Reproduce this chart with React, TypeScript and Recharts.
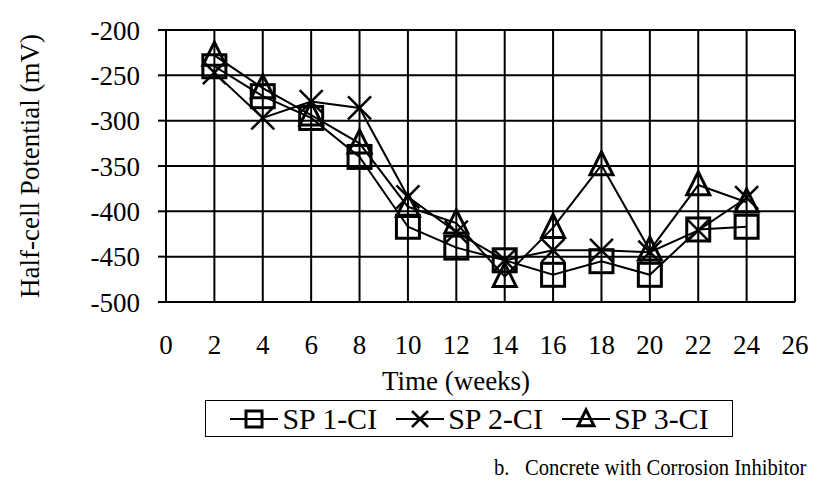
import React from 'react';
import { LineChart, Line, XAxis, YAxis, CartesianGrid, Legend } from 'recharts';

const weeks = [2, 4, 6, 8, 10, 12, 14, 16, 18, 20, 22, 24];
const sp1 = [-240, -273, -297, -340, -417, -440, -454, -470, -455, -470, -420, -417];
const sp2 = [-247, -297, -279, -286, -384, -423, -454, -443, -443, -445, -421, -385];
const sp3 = [-228, -264, -294, -325, -395, -413, -472, -418, -349, -443, -371, -390];
const xTicks = [0, 2, 4, 6, 8, 10, 12, 14, 16, 18, 20, 22, 24, 26];
const yTicks = [-500, -450, -400, -350, -300, -250, -200];
const seriesNames = ['SP 1-CI', 'SP 2-CI', 'SP 3-CI'];

const data = weeks.map((w, i) => ({ week: w, sp1: sp1[i], sp2: sp2[i], sp3: sp3[i] }));

const FONT = 'Liberation Serif, Times New Roman, serif';
const FS = 27;

type Kind = 'square' | 'x' | 'triangle';

function Marker({ cx, cy, kind, s }: { cx: number; cy: number; kind: Kind; s: number }) {
  if (cx == null || cy == null) return null;
  const h = s / 2;
  if (kind === 'square') {
    return <rect x={cx - h} y={cy - h} width={s} height={s} fill="none" stroke="#000" strokeWidth={3} />;
  }
  if (kind === 'x') {
    return (
      <g stroke="#000" strokeWidth={2.5}>
        <line x1={cx - h} y1={cy - h} x2={cx + h} y2={cy + h} />
        <line x1={cx - h} y1={cy + h} x2={cx + h} y2={cy - h} />
      </g>
    );
  }
  return (
    <polygon
      points={`${cx},${cy - h * 1.15} ${cx - h},${cy + h * 0.85} ${cx + h},${cy + h * 0.85}`}
      fill="none"
      stroke="#000"
      strokeWidth={3}
      strokeLinejoin="miter"
    />
  );
}

const makeDot = (kind: Kind) => (props: any) => (
  <Marker key={`${kind}-${props.index}`} cx={props.cx} cy={props.cy} kind={kind} s={23} />
);

const kinds: Kind[] = ['square', 'x', 'triangle'];

function LegendBox() {
  return (
    <div
      style={{
        border: '1.5px solid #000',
        width: 528,
        height: 37,
        display: 'flex',
        alignItems: 'center',
        justifyContent: 'center',
        fontFamily: FONT,
        fontSize: 30,
        lineHeight: 1,
        color: '#000',
        background: '#fff',
        boxSizing: 'border-box',
      }}
    >
      {seriesNames.map((n, i) => (
        <div key={n} style={{ display: 'flex', alignItems: 'center', marginRight: i < 2 ? 18 : 0 }}>
          <svg width={50} height={30}>
            <line x1={1} y1={15} x2={49} y2={15} stroke="#000" strokeWidth={2} />
            <Marker cx={25} cy={15} kind={kinds[i]} s={16} />
          </svg>
          <span style={{ marginLeft: 3 }}>{n}</span>
        </div>
      ))}
    </div>
  );
}

const YLabel = () => (
  <text
    x={30}
    y={166}
    transform="rotate(-90, 30, 166)"
    textAnchor="middle"
    dominantBaseline="central"
    fontFamily={FONT}
    fontSize={FS}
    fill="#000"
  >
    Half-cell Potential (mV)
  </text>
);

const XLabel = () => (
  <text
    x={456}
    y={381}
    textAnchor="middle"
    dominantBaseline="central"
    fontFamily={FONT}
    fontSize={FS}
    fill="#000"
  >
    Time (weeks)
  </text>
);

export default function App() {
  return (
    <div style={{ position: 'absolute', left: 0, top: 0, width: 817, height: 487, background: '#fff' }}>
      <LineChart
        width={817}
        height={487}
        data={data}
        margin={{ top: 30, right: 22, bottom: 95, left: 0 }}
      >
        <CartesianGrid stroke="#000" strokeWidth={2} horizontal vertical />
        <XAxis
          dataKey="week"
          type="number"
          domain={[0, 26]}
          ticks={xTicks}
          interval={0}
          height={90}
          tickSize={0}
          tickMargin={33}
          axisLine={{ stroke: '#000', strokeWidth: 2 }}
          tick={{ fill: '#000', fontFamily: FONT, fontSize: FS }}
          label={<XLabel />}
        />
        <YAxis
          type="number"
          domain={[-500, -200]}
          ticks={yTicks}
          interval={0}
          width={166}
          tickSize={8}
          tickMargin={18}
          axisLine={{ stroke: '#000', strokeWidth: 2 }}
          tickLine={{ stroke: '#000', strokeWidth: 2 }}
          tick={{ fill: '#000', fontFamily: FONT, fontSize: FS }}
          label={<YLabel />}
        />
        <Legend
          layout="horizontal"
          verticalAlign="middle"
          align="center"
          content={() => <LegendBox />}
          wrapperStyle={{ position: 'absolute', left: 205, top: 400, width: 528, height: 37 }}
        />
        {(['sp1', 'sp2', 'sp3'] as const).map((k, i) => (
          <Line
            key={k}
            dataKey={k}
            name={seriesNames[i]}
            stroke="#000"
            strokeWidth={2}
            dot={makeDot(kinds[i])}
            activeDot={false}
            isAnimationActive={false}
          />
        ))}
      </LineChart>
      <div
        style={{
          position: 'absolute',
          left: 494,
          top: 455,
          fontFamily: FONT,
          fontSize: 24,
          lineHeight: 1,
          color: '#000',
          whiteSpace: 'pre',
          transform: 'scaleX(0.86)',
          transformOrigin: 'left top',
        }}
      >
        {'b.   Concrete with Corrosion Inhibitor'}
      </div>
    </div>
  );
}
